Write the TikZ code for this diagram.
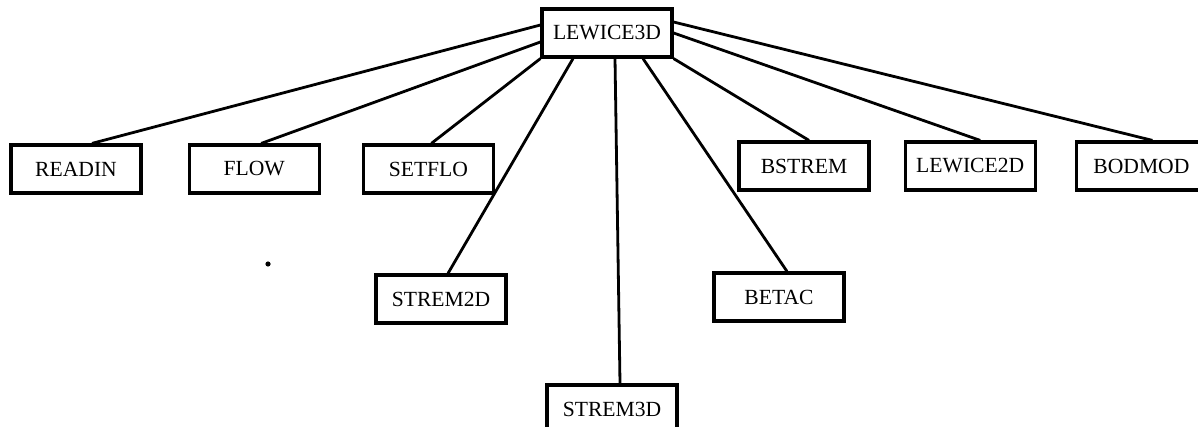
\documentclass[tikz,border=0pt]{standalone}
\usepackage{fontspec}
\setmainfont{Liberation Serif}
\usepackage{tikz}
\usetikzlibrary{positioning,calc}

\begin{document}
\begin{tikzpicture}[x=0.5pt,y=-0.5pt,
  module/.style={draw,line width=1.6pt,minimum width=65pt,minimum height=24pt,
    inner sep=0pt,font=\fontsize{10.8}{13}\selectfont},
  link/.style={line width=1.4pt}]

  \useasboundingbox (0,0) rectangle (1198,427);

  \node[module] (main) at (607,33) {LEWICE3D};

  \node[module] (readin) at (76,169) {READIN};
  \node[module] (flow) [right=22.5pt of readin] {FLOW};
  \node[module] (setflo) [right=20.5pt of flow] {SETFLO};

  \node[module] (bstrem) at (804,166) {BSTREM};
  \node[module] (lewtwo) [right=16.5pt of bstrem] {LEWICE2D};
  \node[module] (bodmod) [right=19pt of lewtwo] {BODMOD};

  \node[module] (stremtwo) at (441,299) {STREM2D};
  \node[module] (betac) at (779,297) {BETAC};
  \node[module] (stremthree) at (612,409) {STREM3D};

  \fill (268,264) circle (1.3pt);

  \draw[link] ([yshift=4pt]main.west) -- ([xshift=8pt]readin.north);
  \draw[link] ([yshift=-4.5pt]main.west) -- ([xshift=3.5pt]flow.north);
  \draw[link] (main.south west) -- ([xshift=1.5pt]setflo.north);
  \draw[link] ([xshift=-17pt]main.south) -- ([xshift=3.5pt]stremtwo.north);
  \draw[link] ([xshift=4pt]main.south) -- ([xshift=4pt]stremthree.north);
  \draw[link] ([xshift=18pt]main.south) -- ([xshift=4pt]betac.north);
  \draw[link] (main.south east) -- ([xshift=2.5pt]bstrem.north);
  \draw[link] (main.east) -- ([xshift=5pt]lewtwo.north);
  \draw[link] ([yshift=5.5pt]main.east) -- ([xshift=5.5pt]bodmod.north);

\end{tikzpicture}
\end{document}
